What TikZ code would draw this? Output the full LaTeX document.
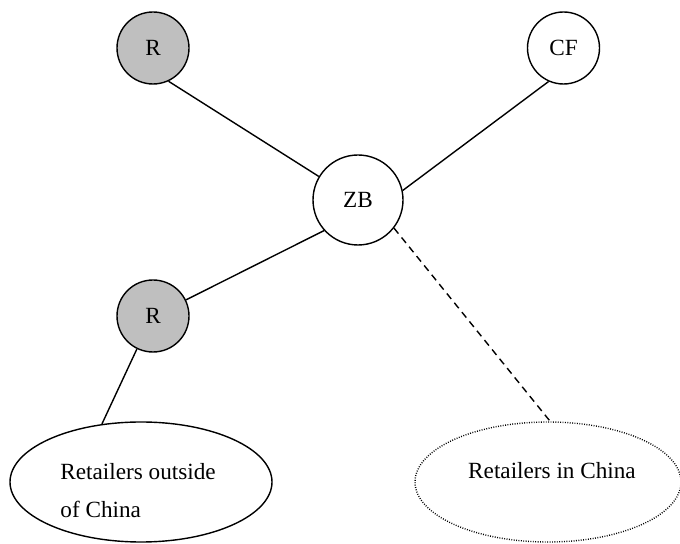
\documentclass[tikz,border=0pt]{standalone}
\usepackage{fontspec}
\setmainfont{Liberation Serif}
\usetikzlibrary{shapes.geometric}
\begin{document}
\begin{tikzpicture}[x=0.5pt,y=-0.5pt,
  every node/.style={font=\fontsize{11.6}{14}\selectfont},
  hub/.style={circle,draw,line width=0.7pt,inner sep=0pt,minimum size=45pt},
  member/.style={circle,draw,line width=0.7pt,inner sep=0pt,minimum size=36pt},
  shaded/.style={member,fill=gray!50},
  group/.style={ellipse,draw,line width=0.7pt,inner sep=0pt,minimum height=60pt},
  caption/.style={inner sep=0pt},
  link/.style={line width=0.7pt},
  weaklink/.style={line width=0.7pt,dash pattern=on 3.5pt off 2.5pt}]
\useasboundingbox (0,0) rectangle (680,544);

% actors
\node[shaded] (r1) at (153,48) {R};
\node[member] (cf) at (563.5,48) {CF};
\node[hub] (zb) at (358,200) {ZB};
\node[shaded] (r2) at (153,316) {R};

% retailer groups
\node[group,minimum width=131pt] (out) at (141,482) {};
\node[group,minimum width=133pt,dash pattern=on 0.45pt off 0.75pt] (in) at (548,482) {};
\node[caption,anchor=base west] (outa) at (60,480) {Retailers outside};
\node[caption,anchor=base west] (outb) at (60,518) {of China};
\node[caption,anchor=base] (inlbl) at (552,479) {Retailers in China};

% connections
\draw[link] (r1.-65) -- (zb.149);
\draw[link] (cf.-114) -- (zb.12.5);
\draw[link] (zb.-138) -- (r2.26.6);
\draw[link] (r2.-116.6) -- (out.124.8);
\draw[weaklink] (zb.-38.7) -- (in.88);
\end{tikzpicture}
\end{document}
